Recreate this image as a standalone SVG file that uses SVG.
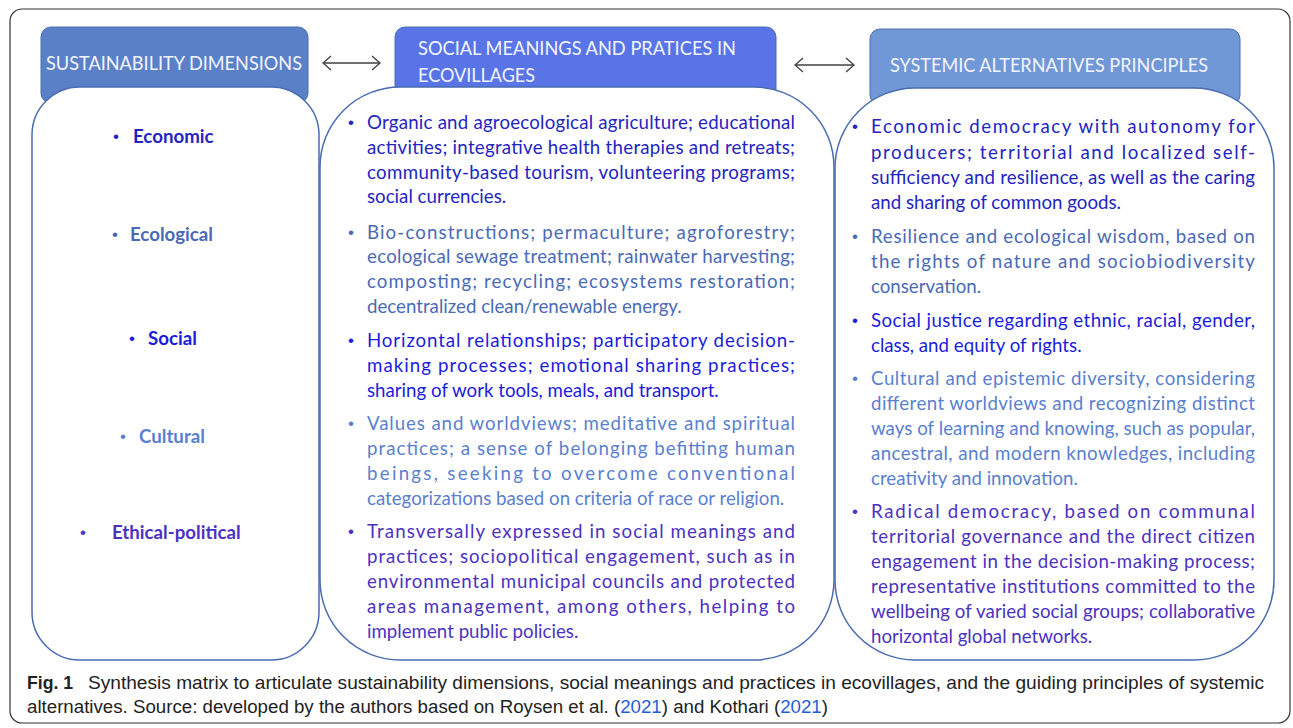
<svg xmlns="http://www.w3.org/2000/svg" width="1293" height="728" viewBox="0 0 1293 728">
<style>
.t{font-family:Lato,"Open Sans","Liberation Sans",sans-serif;font-size:18.7px}
.b{font-weight:bold}
.bu{font-family:"Liberation Sans",Arial,sans-serif;font-size:17px}
.h{font-family:Lato,"Open Sans","Liberation Sans",sans-serif;font-size:20px;fill:#f2f5ff}
.hdr{stroke:#4a6cb0;stroke-width:1}
.box{fill:#ffffff;stroke:#4a6cb0;stroke-width:1.5}
.c1{fill:#2424c2}
.c2{fill:#4a6ab6}
.c3{fill:#1c1cdc}
.c4{fill:#5a7fcf}
.c5{fill:#4b32c2}
.cap{font-family:"Liberation Sans",Arial,sans-serif;font-size:19px;fill:#222}
.cap2{font-family:"Liberation Sans",Arial,sans-serif;font-size:18.7px;fill:#222}
.lnk{fill:#1f5fd6}
.arr{stroke:#404040;stroke-width:1.3;fill:none}
</style>
<defs>
<marker id="chev" viewBox="-10 -8 11 16" markerWidth="11" markerHeight="16" refX="0" refY="0" orient="auto-start-reverse" markerUnits="userSpaceOnUse">
<path d="M-8,-7 L0,0 L-8,7" fill="none" stroke="#404040" stroke-width="1.3"/>
</marker>
</defs>
<rect x="10" y="9" width="1280" height="714" rx="12" fill="#fff" stroke="#333" stroke-width="1.2"/>

<g id="col-dimensions">
<rect class="hdr" x="41" y="27" width="267" height="76" rx="10" fill="#5a80c8"/>
<text class="h" x="46" y="70" textLength="256" lengthAdjust="spacingAndGlyphs">SUSTAINABILITY DIMENSIONS</text>
<rect class="box" x="32" y="87" width="287" height="573" rx="48"/>
<text class="bu c1" x="113" y="142">•</text><text class="t b c1" x="133" y="143">Economic</text>
<text class="bu c2" x="112" y="240">•</text><text class="t b c2" x="130" y="241">Ecological</text>
<text class="bu c3" x="129" y="344">•</text><text class="t b c3" x="148" y="345">Social</text>
<text class="bu c4" x="120" y="442">•</text><text class="t b c4" x="139" y="443">Cultural</text>
<text class="bu c5" x="80" y="538">•</text><text class="t b c5" x="112" y="539">Ethical-political</text>
</g>

<g id="col-practices">
<rect class="hdr" x="395" y="27" width="381" height="76" rx="10" fill="#5874e6"/>
<text class="h" x="418" y="55" textLength="318" lengthAdjust="spacingAndGlyphs">SOCIAL MEANINGS AND PRATICES IN</text>
<text class="h" x="418" y="82" textLength="117" lengthAdjust="spacingAndGlyphs">ECOVILLAGES</text>
<rect class="box" x="320" y="87" width="514" height="573" rx="80"/>
<g class="t c1">
<text class="bu" x="348" y="128">•</text>
<text x="367" y="129" textLength="428" lengthAdjust="spacing">Organic and agroecological agriculture; educational</text>
<text x="367" y="154" textLength="428" lengthAdjust="spacing">activities; integrative health therapies and retreats;</text>
<text x="367" y="179" textLength="428" lengthAdjust="spacing">community-based tourism, volunteering programs;</text>
<text x="367" y="203">social currencies.</text>
</g>
<g class="t c2">
<text class="bu" x="348" y="238">•</text>
<text x="367" y="239" textLength="428" lengthAdjust="spacing">Bio-constructions; permaculture; agroforestry;</text>
<text x="367" y="263" textLength="428" lengthAdjust="spacing">ecological sewage treatment; rainwater harvesting;</text>
<text x="367" y="288" textLength="428" lengthAdjust="spacing">composting; recycling; ecosystems restoration;</text>
<text x="367" y="313">decentralized clean/renewable energy.</text>
</g>
<g class="t c3">
<text class="bu" x="348" y="346">•</text>
<text x="367" y="347" textLength="428" lengthAdjust="spacing">Horizontal relationships; participatory decision-</text>
<text x="367" y="372" textLength="428" lengthAdjust="spacing">making processes; emotional sharing practices;</text>
<text x="367" y="397">sharing of work tools, meals, and transport.</text>
</g>
<g class="t c4">
<text class="bu" x="348" y="429">•</text>
<text x="367" y="430" textLength="428" lengthAdjust="spacing">Values and worldviews; meditative and spiritual</text>
<text x="367" y="455" textLength="428" lengthAdjust="spacing">practices; a sense of belonging befitting human</text>
<text x="367" y="480" textLength="428" lengthAdjust="spacing">beings, seeking to overcome conventional</text>
<text x="367" y="505">categorizations based on criteria of race or religion.</text>
</g>
<g class="t c5">
<text class="bu" x="348" y="537">•</text>
<text x="367" y="538" textLength="428" lengthAdjust="spacing">Transversally expressed in social meanings and</text>
<text x="367" y="563" textLength="428" lengthAdjust="spacing">practices; sociopolitical engagement, such as in</text>
<text x="367" y="588" textLength="428" lengthAdjust="spacing">environmental municipal councils and protected</text>
<text x="367" y="613" textLength="428" lengthAdjust="spacing">areas management, among others, helping to</text>
<text x="367" y="638">implement public policies.</text>
</g>
</g>

<g id="col-principles">
<rect class="hdr" x="870" y="29" width="370" height="76" rx="10" fill="#7097d6"/>
<text class="h" x="890" y="72" textLength="318" lengthAdjust="spacingAndGlyphs">SYSTEMIC ALTERNATIVES PRINCIPLES</text>
<rect class="box" x="835" y="88" width="439" height="572" rx="80"/>
<g class="t c1">
<text class="bu" x="852" y="132">•</text>
<text x="871" y="133" textLength="384" lengthAdjust="spacing">Economic democracy with autonomy for</text>
<text x="871" y="159" textLength="384" lengthAdjust="spacing">producers; territorial and localized self-</text>
<text x="871" y="184" textLength="384" lengthAdjust="spacing">sufficiency and resilience, as well as the caring</text>
<text x="871" y="209">and sharing of common goods.</text>
</g>
<g class="t c2">
<text class="bu" x="852" y="242">•</text>
<text x="871" y="243" textLength="384" lengthAdjust="spacing">Resilience and ecological wisdom, based on</text>
<text x="871" y="268" textLength="384" lengthAdjust="spacing">the rights of nature and sociobiodiversity</text>
<text x="871" y="293">conservation.</text>
</g>
<g class="t c3">
<text class="bu" x="852" y="326">•</text>
<text x="871" y="327" textLength="384" lengthAdjust="spacing">Social justice regarding ethnic, racial, gender,</text>
<text x="871" y="352">class, and equity of rights.</text>
</g>
<g class="t c4">
<text class="bu" x="852" y="384">•</text>
<text x="871" y="385" textLength="384" lengthAdjust="spacing">Cultural and epistemic diversity, considering</text>
<text x="871" y="410" textLength="384" lengthAdjust="spacing">different worldviews and recognizing distinct</text>
<text x="871" y="435" textLength="384" lengthAdjust="spacing">ways of learning and knowing, such as popular,</text>
<text x="871" y="460" textLength="384" lengthAdjust="spacing">ancestral, and modern knowledges, including</text>
<text x="871" y="485">creativity and innovation.</text>
</g>
<g class="t c5">
<text class="bu" x="852" y="517">•</text>
<text x="871" y="518" textLength="384" lengthAdjust="spacing">Radical democracy, based on communal</text>
<text x="871" y="543" textLength="384" lengthAdjust="spacing">territorial governance and the direct citizen</text>
<text x="871" y="568" textLength="384" lengthAdjust="spacing">engagement in the decision-making process;</text>
<text x="871" y="593" textLength="384" lengthAdjust="spacing">representative institutions committed to the</text>
<text x="871" y="618" textLength="384" lengthAdjust="spacing">wellbeing of varied social groups; collaborative</text>
<text x="871" y="643">horizontal global networks.</text>
</g>
</g>

<g id="connectors">
<line class="arr" x1="323" y1="63" x2="380" y2="63" marker-start="url(#chev)" marker-end="url(#chev)"/>
<line class="arr" x1="795" y1="65" x2="854" y2="65" marker-start="url(#chev)" marker-end="url(#chev)"/>
</g>

<g id="caption">
<text class="cap" x="27" y="689" font-weight="bold" textLength="46" lengthAdjust="spacingAndGlyphs">Fig. 1</text>
<text class="cap" x="88" y="689" textLength="1176" lengthAdjust="spacingAndGlyphs">Synthesis matrix to articulate sustainability dimensions, social meanings and practices in ecovillages, and the guiding principles of systemic</text>
<text class="cap2" x="27" y="713">alternatives. Source: developed by the authors based on Roysen et al. (<tspan class="lnk">2021</tspan>) and Kothari (<tspan class="lnk">2021</tspan>)</text>
</g>
</svg>
